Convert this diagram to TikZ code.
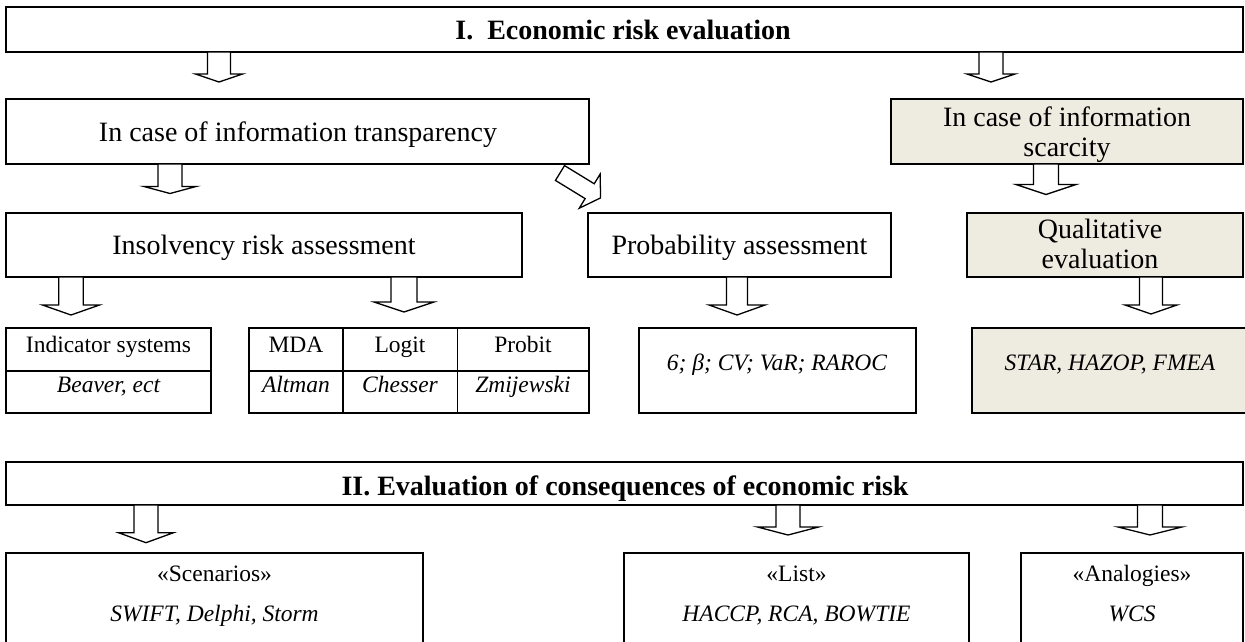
\documentclass[tikz,border=0pt]{standalone}
\usepackage{fontspec}
\setmainfont{Liberation Serif}
\definecolor{boxfill}{HTML}{EEECE1}
\newcommand\bigtxt{\fontsize{28}{30}\selectfont}
\newcommand\smtxt{\fontsize{23.5}{26}\selectfont}
% #1 style, #2 x1, #3 y1, #4 x2, #5 y2, #6 name
\newcommand\boxat[6]{\node[#1, minimum width={#4-#2}, minimum height={#5-#3}] (#6) at (#2,#3) {};}
% #1 name, #2 x, #3 y, #4 angle, #5 length, #6 shaft half width, #7 head half width, #8 head length
\newcommand\blockarrow[8]{%
  \coordinate (#1) at (#2,#3);
  \draw[barrow, shift={(#1)}, rotate=#4] (0,-#6) -- ({#5-#8},-#6) -- ({#5-#8},-#7) -- (#5,0) -- ({#5-#8},#7) -- ({#5-#8},#6) -- (0,#6) -- cycle;}
\begin{document}
\begin{tikzpicture}[x=1pt,y=-1pt,
  box/.style={rectangle, draw, line width=2.2pt, inner sep=0pt, outer sep=0pt, anchor=north west},
  filled/.style={box, fill=boxfill},
  bigt/.style={anchor=base, inner sep=0pt, font=\bigtxt},
  bigb/.style={anchor=base, inner sep=0pt, font=\bigtxt\bfseries},
  smt/.style={anchor=base, inner sep=0pt, font=\smtxt},
  smi/.style={anchor=base, inner sep=0pt, font=\smtxt\itshape},
  barrow/.style={draw, fill=white, line width=1.3pt, line join=miter},
  gridline/.style={line width=1.6pt}]
\useasboundingbox (0,0) rectangle (1245,641);
\clip (0,0) rectangle (1245,641);

% ---------- boxes ----------
\boxat{box}{6}{7}{1243}{52}{top}
\boxat{box}{6}{99}{589}{164}{trans}
\boxat{filled}{891}{99}{1243}{164}{scarc}
\boxat{box}{6}{213}{522}{277}{insolv}
\boxat{box}{588}{213}{891}{277}{prob}
\boxat{filled}{967}{213}{1243}{277}{qual}
\boxat{box}{6}{328}{211}{413}{ind}
\boxat{box}{249}{328}{589}{413}{mda}
\boxat{box}{639}{328}{916}{413}{pres}
\boxat{filled}{972}{328}{1256}{413}{star}
\boxat{box}{6}{462}{1243}{505}{two}
\boxat{box}{6}{553}{423}{652}{scen}
\boxat{box}{624}{553}{969}{652}{list}
\boxat{box}{1021}{553}{1243}{652}{analog}

% table inner lines
\draw[gridline] (ind.west |- 0,371) -- (ind.east |- 0,371);
\draw[gridline] (mda.west |- 0,371) -- (mda.east |- 0,371);
\draw[gridline] (343,0 |- mda.north) -- (343,0 |- mda.south);
\draw[gridline] (457.5,0 |- mda.north) -- (457.5,0 |- mda.south);

% ---------- texts ----------
\node[bigb] (ttop) at (623,39.5) {I.\ \ Economic risk evaluation};
\node[bigt] (ttrans) at (298,141.7) {In case of information transparency};
\node[bigt] (tscarc1) at (1067,126.7) {In case of information};
\node[bigt] (tscarc2) at (1067,156.7) {scarcity};
\node[bigt] (tinsolv) at (264,254) {Insolvency risk assessment};
\node[bigt] (tprob) at (739.5,254) {Probability assessment};
\node[bigt] (tqual1) at (1100,238.3) {Qualitative};
\node[bigt] (tqual2) at (1100,268.3) {evaluation};

\node[smt] (tind) at (108.5,352) {Indicator systems};
\node[smi] (tbeaver) at (108.5,392) {Beaver, ect};
\node[smt] (tmdah) at (296,352) {MDA};
\node[smt] (tlogit) at (400,352) {Logit};
\node[smt] (tprobit) at (523,352) {Probit};
\node[smi] (taltman) at (296,392) {Altman};
\node[smi] (tchesser) at (400,392) {Chesser};
\node[smi] (tzmij) at (523,392) {Zmijewski};
\node[smi] (tpres) at (777,370) {6; β; CV; VaR; RAROC};
\node[smi] (tstar) at (1110,370) {STAR, HAZOP, FMEA};

\node[bigb] (ttwo) at (625,495.5) {II. Evaluation of consequences of economic risk};
\node[smt] (tscen1) at (214.5,581.5) {«Scenarios»};
\node[smi] (tscen2) at (214.5,621.5) {SWIFT, Delphi, Storm};
\node[smt] (tlist1) at (796.5,581.5) {«List»};
\node[smi] (tlist2) at (796.5,621.5) {HACCP, RCA, BOWTIE};
\node[smt] (tanal1) at (1132,581.5) {«Analogies»};
\node[smi] (tanal2) at (1132,621.5) {WCS};

% ---------- block arrows ----------
\blockarrow{a1}{219}{52}{-90}{30}{11.5}{23.5}{8}
\blockarrow{a2}{991}{52}{-90}{30}{12}{24}{8}
\blockarrow{a3}{170}{164}{-90}{29.5}{12}{26}{7}
\blockarrow{a4}{1046}{164}{-90}{30.5}{12.5}{30}{10}
\blockarrow{a5}{560}{173}{-31.5}{47.6}{8.7}{20}{12.8}
\blockarrow{a6}{71}{277}{-90}{38}{12.3}{28.5}{10}
\blockarrow{a7}{404}{277}{-90}{35}{13}{30}{10}
\blockarrow{a8}{737}{277}{-90}{38}{10.5}{28}{10}
\blockarrow{a9}{1151}{277}{-90}{37}{11.5}{26}{9}
\blockarrow{a10}{146}{505}{-90}{37.7}{12}{27.5}{10}
\blockarrow{a11}{788}{505}{-90}{30}{12}{30.5}{8}
\blockarrow{a12}{1150}{505}{-90}{30}{12.5}{32}{8}
\end{tikzpicture}
\end{document}
